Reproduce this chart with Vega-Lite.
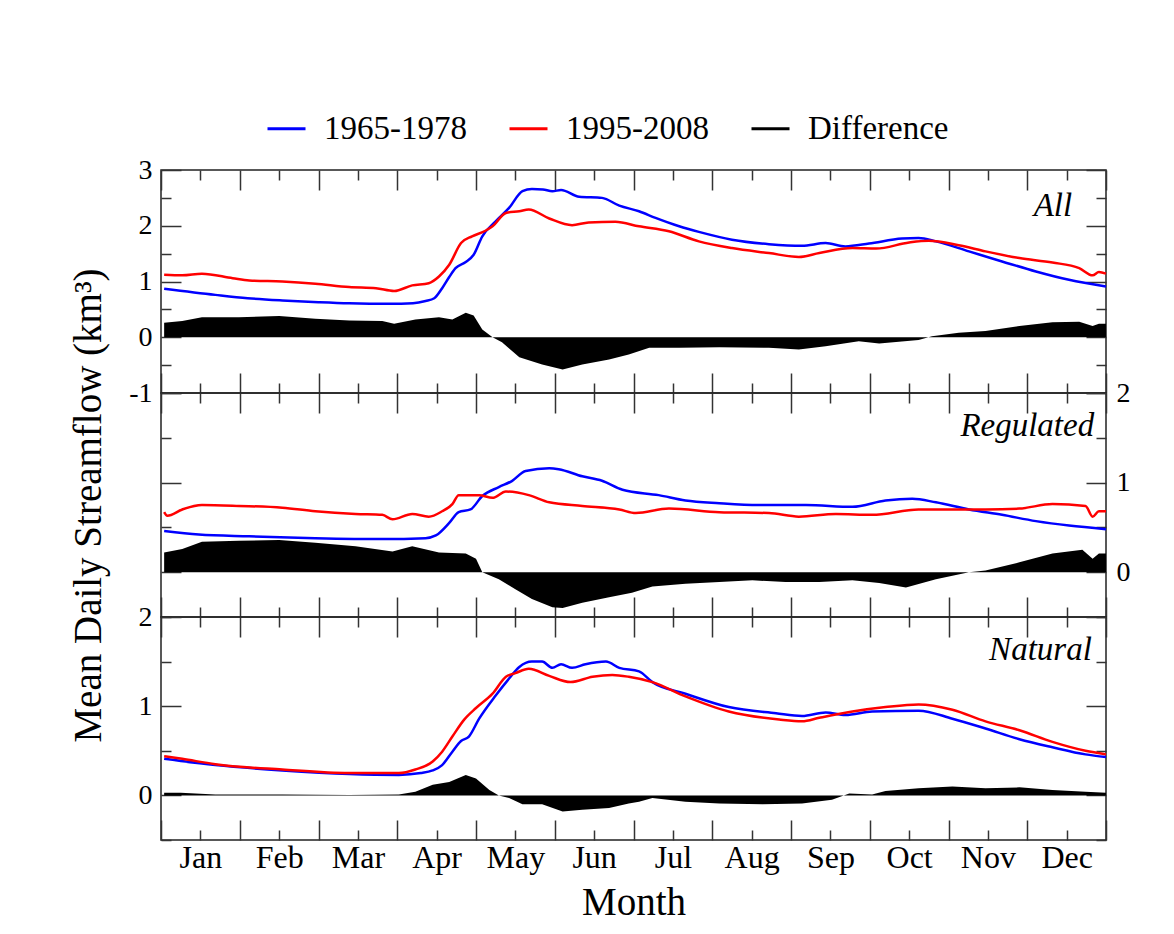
{
  "$schema": "https://vega.github.io/schema/vega-lite/v6.json",
  "background": "white",
  "padding": {"left": 68, "top": 108, "right": 5, "bottom": 5},
  "datasets": {
    "all": [
      {"s":"1965-1978","x":0.04,"v":0.87},{"s":"1965-1978","x":0.69,"v":0.76},{"s":"1965-1978","x":1.1,"v":0.70},{"s":"1965-1978","x":1.54,"v":0.66},{"s":"1965-1978","x":2.0,"v":0.63},{"s":"1965-1978","x":2.39,"v":0.61},{"s":"1965-1978","x":2.9,"v":0.60},{"s":"1965-1978","x":3.2,"v":0.61},{"s":"1965-1978","x":3.36,"v":0.65},{"s":"1965-1978","x":3.47,"v":0.70},{"s":"1965-1978","x":3.57,"v":0.88},{"s":"1965-1978","x":3.66,"v":1.08},{"s":"1965-1978","x":3.74,"v":1.24},{"s":"1965-1978","x":3.87,"v":1.35},{"s":"1965-1978","x":3.97,"v":1.48},{"s":"1965-1978","x":4.08,"v":1.81},{"s":"1965-1978","x":4.25,"v":2.08},{"s":"1965-1978","x":4.42,"v":2.32},{"s":"1965-1978","x":4.59,"v":2.62},{"s":"1965-1978","x":4.71,"v":2.66},{"s":"1965-1978","x":4.85,"v":2.65},{"s":"1965-1978","x":4.97,"v":2.62},{"s":"1965-1978","x":5.08,"v":2.64},{"s":"1965-1978","x":5.31,"v":2.52},{"s":"1965-1978","x":5.6,"v":2.5},{"s":"1965-1978","x":5.82,"v":2.36},{"s":"1965-1978","x":6.07,"v":2.26},{"s":"1965-1978","x":6.28,"v":2.14},{"s":"1965-1978","x":6.58,"v":1.99},{"s":"1965-1978","x":6.83,"v":1.89},{"s":"1965-1978","x":7.25,"v":1.75},{"s":"1965-1978","x":7.72,"v":1.67},{"s":"1965-1978","x":8.14,"v":1.64},{"s":"1965-1978","x":8.44,"v":1.69},{"s":"1965-1978","x":8.69,"v":1.63},{"s":"1965-1978","x":8.99,"v":1.68},{"s":"1965-1978","x":9.41,"v":1.77},{"s":"1965-1978","x":9.62,"v":1.78},{"s":"1965-1978","x":9.84,"v":1.72},{"s":"1965-1978","x":10.26,"v":1.54},{"s":"1965-1978","x":10.68,"v":1.36},{"s":"1965-1978","x":11.11,"v":1.18},{"s":"1965-1978","x":11.53,"v":1.03},{"s":"1965-1978","x":12,"v":0.91},
      {"s":"1995-2008","x":0.04,"v":1.12},{"s":"1995-2008","x":0.27,"v":1.11},{"s":"1995-2008","x":0.52,"v":1.14},{"s":"1995-2008","x":0.91,"v":1.06},{"s":"1995-2008","x":1.12,"v":1.02},{"s":"1995-2008","x":1.54,"v":1.00},{"s":"1995-2008","x":1.96,"v":0.96},{"s":"1995-2008","x":2.39,"v":0.90},{"s":"1995-2008","x":2.73,"v":0.88},{"s":"1995-2008","x":2.96,"v":0.83},{"s":"1995-2008","x":3.19,"v":0.93},{"s":"1995-2008","x":3.40,"v":0.97},{"s":"1995-2008","x":3.53,"v":1.09},{"s":"1995-2008","x":3.66,"v":1.30},{"s":"1995-2008","x":3.81,"v":1.69},{"s":"1995-2008","x":3.95,"v":1.81},{"s":"1995-2008","x":4.12,"v":1.91},{"s":"1995-2008","x":4.21,"v":1.99},{"s":"1995-2008","x":4.38,"v":2.23},{"s":"1995-2008","x":4.55,"v":2.26},{"s":"1995-2008","x":4.67,"v":2.29},{"s":"1995-2008","x":4.93,"v":2.13},{"s":"1995-2008","x":5.22,"v":2.01},{"s":"1995-2008","x":5.43,"v":2.06},{"s":"1995-2008","x":5.77,"v":2.07},{"s":"1995-2008","x":6.07,"v":1.99},{"s":"1995-2008","x":6.45,"v":1.90},{"s":"1995-2008","x":6.83,"v":1.72},{"s":"1995-2008","x":7.25,"v":1.60},{"s":"1995-2008","x":7.72,"v":1.51},{"s":"1995-2008","x":8.10,"v":1.44},{"s":"1995-2008","x":8.36,"v":1.51},{"s":"1995-2008","x":8.78,"v":1.60},{"s":"1995-2008","x":9.08,"v":1.59},{"s":"1995-2008","x":9.50,"v":1.70},{"s":"1995-2008","x":9.75,"v":1.73},{"s":"1995-2008","x":10.13,"v":1.65},{"s":"1995-2008","x":10.47,"v":1.54},{"s":"1995-2008","x":10.90,"v":1.42},{"s":"1995-2008","x":11.32,"v":1.34},{"s":"1995-2008","x":11.66,"v":1.24},{"s":"1995-2008","x":11.83,"v":1.11},{"s":"1995-2008","x":11.91,"v":1.17},{"s":"1995-2008","x":12,"v":1.14},
      {"s":"Difference","x":0.04,"v":0.26},{"s":"Difference","x":0.27,"v":0.29},{"s":"Difference","x":0.52,"v":0.36},{"s":"Difference","x":0.99,"v":0.36},{"s":"Difference","x":1.50,"v":0.38},{"s":"Difference","x":1.96,"v":0.33},{"s":"Difference","x":2.39,"v":0.30},{"s":"Difference","x":2.81,"v":0.29},{"s":"Difference","x":2.96,"v":0.24},{"s":"Difference","x":3.23,"v":0.32},{"s":"Difference","x":3.53,"v":0.36},{"s":"Difference","x":3.70,"v":0.32},{"s":"Difference","x":3.87,"v":0.44},{"s":"Difference","x":3.97,"v":0.39},{"s":"Difference","x":4.08,"v":0.14},{"s":"Difference","x":4.21,"v":0.0},{"s":"Difference","x":4.33,"v":-0.09},{"s":"Difference","x":4.55,"v":-0.36},{"s":"Difference","x":4.84,"v":-0.49},{"s":"Difference","x":5.10,"v":-0.58},{"s":"Difference","x":5.35,"v":-0.49},{"s":"Difference","x":5.69,"v":-0.40},{"s":"Difference","x":5.94,"v":-0.31},{"s":"Difference","x":6.20,"v":-0.19},{"s":"Difference","x":6.58,"v":-0.19},{"s":"Difference","x":7.09,"v":-0.18},{"s":"Difference","x":7.72,"v":-0.19},{"s":"Difference","x":8.10,"v":-0.22},{"s":"Difference","x":8.44,"v":-0.16},{"s":"Difference","x":8.86,"v":-0.07},{"s":"Difference","x":9.12,"v":-0.11},{"s":"Difference","x":9.62,"v":-0.05},{"s":"Difference","x":9.79,"v":0.02},{"s":"Difference","x":10.13,"v":0.08},{"s":"Difference","x":10.47,"v":0.11},{"s":"Difference","x":10.90,"v":0.20},{"s":"Difference","x":11.32,"v":0.27},{"s":"Difference","x":11.66,"v":0.28},{"s":"Difference","x":11.83,"v":0.20},{"s":"Difference","x":11.91,"v":0.24},{"s":"Difference","x":12,"v":0.24}
    ],
    "reg": [
      {"s":"1965-1978","x":0.04,"v":0.46},{"s":"1965-1978","x":0.48,"v":0.42},{"s":"1965-1978","x":1.12,"v":0.40},{"s":"1965-1978","x":1.96,"v":0.38},{"s":"1965-1978","x":2.81,"v":0.37},{"s":"1965-1978","x":3.36,"v":0.38},{"s":"1965-1978","x":3.49,"v":0.41},{"s":"1965-1978","x":3.66,"v":0.55},{"s":"1965-1978","x":3.78,"v":0.67},{"s":"1965-1978","x":3.93,"v":0.70},{"s":"1965-1978","x":4.08,"v":0.85},{"s":"1965-1978","x":4.29,"v":0.95},{"s":"1965-1978","x":4.46,"v":1.02},{"s":"1965-1978","x":4.63,"v":1.13},{"s":"1965-1978","x":4.93,"v":1.16},{"s":"1965-1978","x":5.05,"v":1.15},{"s":"1965-1978","x":5.35,"v":1.07},{"s":"1965-1978","x":5.60,"v":1.02},{"s":"1965-1978","x":5.86,"v":0.92},{"s":"1965-1978","x":6.32,"v":0.86},{"s":"1965-1978","x":6.66,"v":0.80},{"s":"1965-1978","x":7.09,"v":0.77},{"s":"1965-1978","x":7.59,"v":0.75},{"s":"1965-1978","x":8.19,"v":0.75},{"s":"1965-1978","x":8.78,"v":0.73},{"s":"1965-1978","x":9.20,"v":0.80},{"s":"1965-1978","x":9.54,"v":0.82},{"s":"1965-1978","x":9.84,"v":0.78},{"s":"1965-1978","x":10.26,"v":0.70},{"s":"1965-1978","x":10.68,"v":0.64},{"s":"1965-1978","x":11.11,"v":0.57},{"s":"1965-1978","x":11.53,"v":0.52},{"s":"1965-1978","x":12,"v":0.48},
      {"s":"1995-2008","x":0.04,"v":0.67},{"s":"1995-2008","x":0.08,"v":0.63},{"s":"1995-2008","x":0.27,"v":0.70},{"s":"1995-2008","x":0.52,"v":0.75},{"s":"1995-2008","x":0.99,"v":0.74},{"s":"1995-2008","x":1.54,"v":0.72},{"s":"1995-2008","x":1.96,"v":0.68},{"s":"1995-2008","x":2.47,"v":0.65},{"s":"1995-2008","x":2.81,"v":0.64},{"s":"1995-2008","x":2.94,"v":0.59},{"s":"1995-2008","x":3.19,"v":0.65},{"s":"1995-2008","x":3.40,"v":0.62},{"s":"1995-2008","x":3.57,"v":0.68},{"s":"1995-2008","x":3.70,"v":0.76},{"s":"1995-2008","x":3.78,"v":0.86},{"s":"1995-2008","x":4.04,"v":0.86},{"s":"1995-2008","x":4.21,"v":0.83},{"s":"1995-2008","x":4.38,"v":0.90},{"s":"1995-2008","x":4.67,"v":0.86},{"s":"1995-2008","x":4.93,"v":0.78},{"s":"1995-2008","x":5.35,"v":0.74},{"s":"1995-2008","x":5.82,"v":0.70},{"s":"1995-2008","x":6.03,"v":0.66},{"s":"1995-2008","x":6.45,"v":0.71},{"s":"1995-2008","x":7.09,"v":0.67},{"s":"1995-2008","x":7.72,"v":0.66},{"s":"1995-2008","x":8.10,"v":0.62},{"s":"1995-2008","x":8.57,"v":0.65},{"s":"1995-2008","x":9.03,"v":0.64},{"s":"1995-2008","x":9.62,"v":0.70},{"s":"1995-2008","x":10.05,"v":0.70},{"s":"1995-2008","x":10.47,"v":0.70},{"s":"1995-2008","x":10.90,"v":0.71},{"s":"1995-2008","x":11.32,"v":0.76},{"s":"1995-2008","x":11.74,"v":0.74},{"s":"1995-2008","x":11.83,"v":0.62},{"s":"1995-2008","x":11.91,"v":0.68},{"s":"1995-2008","x":12,"v":0.68},
      {"s":"Difference","x":0.04,"v":0.22},{"s":"Difference","x":0.27,"v":0.26},{"s":"Difference","x":0.52,"v":0.34},{"s":"Difference","x":0.99,"v":0.35},{"s":"Difference","x":1.50,"v":0.36},{"s":"Difference","x":1.96,"v":0.33},{"s":"Difference","x":2.47,"v":0.29},{"s":"Difference","x":2.94,"v":0.23},{"s":"Difference","x":3.19,"v":0.29},{"s":"Difference","x":3.53,"v":0.22},{"s":"Difference","x":3.87,"v":0.21},{"s":"Difference","x":4.00,"v":0.15},{"s":"Difference","x":4.08,"v":0.0},{"s":"Difference","x":4.29,"v":-0.08},{"s":"Difference","x":4.50,"v":-0.19},{"s":"Difference","x":4.71,"v":-0.30},{"s":"Difference","x":4.97,"v":-0.39},{"s":"Difference","x":5.10,"v":-0.40},{"s":"Difference","x":5.35,"v":-0.34},{"s":"Difference","x":5.69,"v":-0.28},{"s":"Difference","x":5.98,"v":-0.23},{"s":"Difference","x":6.24,"v":-0.16},{"s":"Difference","x":6.66,"v":-0.13},{"s":"Difference","x":7.09,"v":-0.11},{"s":"Difference","x":7.51,"v":-0.09},{"s":"Difference","x":7.93,"v":-0.11},{"s":"Difference","x":8.36,"v":-0.11},{"s":"Difference","x":8.78,"v":-0.09},{"s":"Difference","x":9.12,"v":-0.12},{"s":"Difference","x":9.46,"v":-0.17},{"s":"Difference","x":9.84,"v":-0.08},{"s":"Difference","x":10.26,"v":0.0},{"s":"Difference","x":10.47,"v":0.02},{"s":"Difference","x":10.90,"v":0.11},{"s":"Difference","x":11.32,"v":0.21},{"s":"Difference","x":11.70,"v":0.25},{"s":"Difference","x":11.83,"v":0.15},{"s":"Difference","x":11.91,"v":0.21},{"s":"Difference","x":12,"v":0.21}
    ],
    "nat": [
      {"s":"1965-1978","x":0.04,"v":0.41},{"s":"1965-1978","x":0.69,"v":0.34},{"s":"1965-1978","x":1.54,"v":0.28},{"s":"1965-1978","x":2.39,"v":0.24},{"s":"1965-1978","x":3.02,"v":0.23},{"s":"1965-1978","x":3.30,"v":0.25},{"s":"1965-1978","x":3.45,"v":0.28},{"s":"1965-1978","x":3.57,"v":0.34},{"s":"1965-1978","x":3.70,"v":0.49},{"s":"1965-1978","x":3.81,"v":0.61},{"s":"1965-1978","x":3.91,"v":0.66},{"s":"1965-1978","x":4.04,"v":0.86},{"s":"1965-1978","x":4.25,"v":1.12},{"s":"1965-1978","x":4.42,"v":1.31},{"s":"1965-1978","x":4.55,"v":1.44},{"s":"1965-1978","x":4.71,"v":1.50},{"s":"1965-1978","x":4.84,"v":1.50},{"s":"1965-1978","x":4.97,"v":1.43},{"s":"1965-1978","x":5.08,"v":1.47},{"s":"1965-1978","x":5.22,"v":1.43},{"s":"1965-1978","x":5.39,"v":1.47},{"s":"1965-1978","x":5.65,"v":1.50},{"s":"1965-1978","x":5.82,"v":1.43},{"s":"1965-1978","x":6.07,"v":1.39},{"s":"1965-1978","x":6.24,"v":1.27},{"s":"1965-1978","x":6.66,"v":1.14},{"s":"1965-1978","x":7.21,"v":0.99},{"s":"1965-1978","x":7.81,"v":0.92},{"s":"1965-1978","x":8.14,"v":0.89},{"s":"1965-1978","x":8.44,"v":0.93},{"s":"1965-1978","x":8.69,"v":0.90},{"s":"1965-1978","x":9.03,"v":0.94},{"s":"1965-1978","x":9.62,"v":0.95},{"s":"1965-1978","x":10.05,"v":0.86},{"s":"1965-1978","x":10.47,"v":0.75},{"s":"1965-1978","x":10.90,"v":0.63},{"s":"1965-1978","x":11.32,"v":0.54},{"s":"1965-1978","x":11.74,"v":0.46},{"s":"1965-1978","x":12,"v":0.43},
      {"s":"1995-2008","x":0.04,"v":0.44},{"s":"1995-2008","x":0.27,"v":0.41},{"s":"1995-2008","x":0.69,"v":0.35},{"s":"1995-2008","x":1.54,"v":0.29},{"s":"1995-2008","x":2.39,"v":0.25},{"s":"1995-2008","x":3.02,"v":0.25},{"s":"1995-2008","x":3.23,"v":0.29},{"s":"1995-2008","x":3.45,"v":0.38},{"s":"1995-2008","x":3.57,"v":0.49},{"s":"1995-2008","x":3.70,"v":0.66},{"s":"1995-2008","x":3.85,"v":0.85},{"s":"1995-2008","x":4.00,"v":0.98},{"s":"1995-2008","x":4.21,"v":1.14},{"s":"1995-2008","x":4.38,"v":1.33},{"s":"1995-2008","x":4.50,"v":1.37},{"s":"1995-2008","x":4.67,"v":1.42},{"s":"1995-2008","x":4.93,"v":1.34},{"s":"1995-2008","x":5.20,"v":1.27},{"s":"1995-2008","x":5.48,"v":1.33},{"s":"1995-2008","x":5.73,"v":1.35},{"s":"1995-2008","x":5.94,"v":1.33},{"s":"1995-2008","x":6.24,"v":1.27},{"s":"1995-2008","x":6.66,"v":1.11},{"s":"1995-2008","x":7.21,"v":0.94},{"s":"1995-2008","x":7.85,"v":0.85},{"s":"1995-2008","x":8.14,"v":0.83},{"s":"1995-2008","x":8.36,"v":0.87},{"s":"1995-2008","x":8.78,"v":0.94},{"s":"1995-2008","x":9.20,"v":0.99},{"s":"1995-2008","x":9.62,"v":1.02},{"s":"1995-2008","x":10.05,"v":0.96},{"s":"1995-2008","x":10.47,"v":0.83},{"s":"1995-2008","x":10.90,"v":0.73},{"s":"1995-2008","x":11.32,"v":0.60},{"s":"1995-2008","x":11.74,"v":0.50},{"s":"1995-2008","x":12,"v":0.46},
      {"s":"Difference","x":0.04,"v":0.03},{"s":"Difference","x":0.25,"v":0.03},{"s":"Difference","x":0.69,"v":0.01},{"s":"Difference","x":1.54,"v":0.01},{"s":"Difference","x":2.39,"v":0.005},{"s":"Difference","x":3.02,"v":0.01},{"s":"Difference","x":3.23,"v":0.04},{"s":"Difference","x":3.45,"v":0.12},{"s":"Difference","x":3.66,"v":0.15},{"s":"Difference","x":3.87,"v":0.23},{"s":"Difference","x":4.00,"v":0.19},{"s":"Difference","x":4.17,"v":0.06},{"s":"Difference","x":4.29,"v":0.0},{"s":"Difference","x":4.42,"v":-0.03},{"s":"Difference","x":4.59,"v":-0.10},{"s":"Difference","x":4.84,"v":-0.10},{"s":"Difference","x":5.10,"v":-0.18},{"s":"Difference","x":5.35,"v":-0.16},{"s":"Difference","x":5.69,"v":-0.14},{"s":"Difference","x":5.94,"v":-0.09},{"s":"Difference","x":6.07,"v":-0.07},{"s":"Difference","x":6.24,"v":-0.03},{"s":"Difference","x":6.66,"v":-0.07},{"s":"Difference","x":7.09,"v":-0.09},{"s":"Difference","x":7.64,"v":-0.10},{"s":"Difference","x":8.14,"v":-0.09},{"s":"Difference","x":8.52,"v":-0.05},{"s":"Difference","x":8.74,"v":0.02},{"s":"Difference","x":9.03,"v":0.01},{"s":"Difference","x":9.20,"v":0.05},{"s":"Difference","x":9.62,"v":0.08},{"s":"Difference","x":10.05,"v":0.10},{"s":"Difference","x":10.47,"v":0.08},{"s":"Difference","x":10.90,"v":0.09},{"s":"Difference","x":11.32,"v":0.06},{"s":"Difference","x":11.74,"v":0.04},{"s":"Difference","x":12,"v":0.03}
    ]
  },
  "spacing": 0,
  "bounds": "flush",
  "vconcat": [
    {
      "width": 945, "height": 223,
      "data": {"name": "all"},
      "resolve": {"axis": {"x": "independent", "y": "independent"}},
      "layer": [
        {
          "transform": [{"filter": "datum.s === 'Difference'"}],
          "mark": {"type": "area"},
          "encoding": {
            "x": {"field": "x", "type": "quantitative", "scale": {"domain": [0, 12], "nice": false, "zero": false},
                  "axis": {"orient": "bottom", "values": [0,0.5,1,1.5,2,2.5,3,3.5,4,4.5,5,5.5,6,6.5,7,7.5,8,8.5,9,9.5,10,10.5,11,11.5,12], "tickSize": {"condition": {"test": "datum.value % 1 === 0", "value": -20}, "value": -10}, "labels": false, "title": null}},
            "y": {"field": "v", "type": "quantitative", "scale": {"domain": [-1, 3], "nice": false},
                  "axis": {"orient": "left", "values": [-1,-0.5,0,0.5,1,1.5,2,2.5,3], "tickSize": {"condition": {"test": "datum.value % 1 === 0", "value": -20}, "value": -10}, "labelExpr": "datum.value % 1 === 0 ? '' + datum.value : ''", "labelPadding": 29, "title": null}},
            "y2": {"datum": 0},
            "color": {"field": "s", "type": "nominal", "scale": {"domain": ["1965-1978", "1995-2008", "Difference"], "range": ["#0000ff", "#ff0000", "#000000"]}, "legend": {"title": null, "orient": "none", "legendX": 105, "legendY": -62, "direction": "horizontal"}}
          }
        },
        {
          "transform": [{"filter": "datum.s !== 'Difference'"}],
          "mark": {"type": "line", "strokeWidth": 2.5, "interpolate": "monotone"},
          "encoding": {
            "x": {"field": "x", "type": "quantitative", "scale": {"domain": [0, 12], "nice": false, "zero": false},
                  "axis": {"orient": "top", "values": [0,0.5,1,1.5,2,2.5,3,3.5,4,4.5,5,5.5,6,6.5,7,7.5,8,8.5,9,9.5,10,10.5,11,11.5,12], "tickSize": {"condition": {"test": "datum.value % 1 === 0", "value": -20}, "value": -10}, "labels": false, "title": null}},
            "y": {"field": "v", "type": "quantitative", "scale": {"domain": [-1, 3], "nice": false},
                  "axis": {"orient": "right", "values": [-1,-0.5,0,0.5,1,1.5,2,2.5,3], "tickSize": {"condition": {"test": "datum.value % 1 === 0", "value": -20}, "value": -10}, "labels": false, "title": null}},
            "color": {"field": "s", "type": "nominal", "scale": {"domain": ["1965-1978", "1995-2008", "Difference"], "range": ["#0000ff", "#ff0000", "#000000"]}, "legend": {"title": null, "orient": "none", "legendX": 105, "legendY": -62, "direction": "horizontal"}}
          }
        },
        {
          "data": {"values": [{}]},
          "mark": {"type": "text", "font": "Liberation Serif", "fontStyle": "italic", "fontSize": 33, "align": "right", "baseline": "middle", "color": "#000"},
          "encoding": {
            "x": {"datum": 11.57, "type": "quantitative", "axis": null},
            "y": {"datum": 2.36, "type": "quantitative", "axis": null},
            "text": {"value": "All"}
          }
        }
      ]
    },
    {
      "width": 945, "height": 224,
      "data": {"name": "reg"},
      "resolve": {"axis": {"x": "independent", "y": "independent"}},
      "layer": [
        {
          "transform": [{"filter": "datum.s === 'Difference'"}],
          "mark": {"type": "area"},
          "encoding": {
            "x": {"field": "x", "type": "quantitative", "scale": {"domain": [0, 12], "nice": false, "zero": false},
                  "axis": {"orient": "bottom", "values": [0,0.5,1,1.5,2,2.5,3,3.5,4,4.5,5,5.5,6,6.5,7,7.5,8,8.5,9,9.5,10,10.5,11,11.5,12], "tickSize": {"condition": {"test": "datum.value % 1 === 0", "value": -20}, "value": -10}, "labels": false, "title": null}},
            "y": {"field": "v", "type": "quantitative", "scale": {"domain": [-0.5, 2], "nice": false},
                  "axis": {"orient": "left", "values": [-0.5,0,0.5,1,1.5,2], "tickSize": {"condition": {"test": "datum.value % 1 === 0", "value": -20}, "value": -10}, "labels": false, "title": "Mean Daily Streamflow (km³)", "titleFontSize": 39, "titlePadding": 52}},
            "y2": {"datum": 0},
            "color": {"field": "s", "type": "nominal", "scale": {"domain": ["1965-1978", "1995-2008", "Difference"], "range": ["#0000ff", "#ff0000", "#000000"]}, "legend": {"title": null, "orient": "none", "legendX": 105, "legendY": -62, "direction": "horizontal"}}
          }
        },
        {
          "transform": [{"filter": "datum.s !== 'Difference'"}],
          "mark": {"type": "line", "strokeWidth": 2.5, "interpolate": "monotone"},
          "encoding": {
            "x": {"field": "x", "type": "quantitative", "scale": {"domain": [0, 12], "nice": false, "zero": false},
                  "axis": {"orient": "top", "values": [0,0.5,1,1.5,2,2.5,3,3.5,4,4.5,5,5.5,6,6.5,7,7.5,8,8.5,9,9.5,10,10.5,11,11.5,12], "tickSize": {"condition": {"test": "datum.value % 1 === 0", "value": -20}, "value": -10}, "labels": false, "title": null}},
            "y": {"field": "v", "type": "quantitative", "scale": {"domain": [-0.5, 2], "nice": false},
                  "axis": {"orient": "right", "values": [-0.5,0,0.5,1,1.5,2], "tickSize": {"condition": {"test": "datum.value % 1 === 0", "value": -20}, "value": -10}, "labelExpr": "datum.value % 1 === 0 ? '' + datum.value : ''", "labelPadding": 30, "title": null}},
            "color": {"field": "s", "type": "nominal", "scale": {"domain": ["1965-1978", "1995-2008", "Difference"], "range": ["#0000ff", "#ff0000", "#000000"]}, "legend": {"title": null, "orient": "none", "legendX": 105, "legendY": -62, "direction": "horizontal"}}
          }
        },
        {
          "data": {"values": [{}]},
          "mark": {"type": "text", "font": "Liberation Serif", "fontStyle": "italic", "fontSize": 33, "align": "right", "baseline": "middle", "color": "#000"},
          "encoding": {
            "x": {"datum": 11.85, "type": "quantitative", "axis": null},
            "y": {"datum": 1.63, "type": "quantitative", "axis": null},
            "text": {"value": "Regulated"}
          }
        }
      ]
    },
    {
      "width": 945, "height": 223,
      "data": {"name": "nat"},
      "resolve": {"axis": {"x": "independent", "y": "independent"}},
      "layer": [
        {
          "transform": [{"filter": "datum.s === 'Difference'"}],
          "mark": {"type": "area"},
          "encoding": {
            "x": {"field": "x", "type": "quantitative", "scale": {"domain": [0, 12], "nice": false, "zero": false},
                  "axis": {"orient": "bottom", "values": [0,0.5,1,1.5,2,2.5,3,3.5,4,4.5,5,5.5,6,6.5,7,7.5,8,8.5,9,9.5,10,10.5,11,11.5,12], "tickSize": {"condition": {"test": "datum.value % 1 === 0", "value": -20}, "value": -10}, "labelExpr": "datum.value % 1 !== 0 ? ['Jan','Feb','Mar','Apr','May','Jun','Jul','Aug','Sep','Oct','Nov','Dec'][floor(datum.value)] : ''", "labelFontSize": 32, "labelPadding": 12, "title": "Month", "titleFontSize": 39, "titlePadding": 10}},
            "y": {"field": "v", "type": "quantitative", "scale": {"domain": [-0.5, 2], "nice": false},
                  "axis": {"orient": "left", "values": [-0.5,0,0.5,1,1.5,2], "tickSize": {"condition": {"test": "datum.value % 1 === 0", "value": -20}, "value": -10}, "labelExpr": "datum.value % 1 === 0 ? '' + datum.value : ''", "labelPadding": 29, "title": null}},
            "y2": {"datum": 0},
            "color": {"field": "s", "type": "nominal", "scale": {"domain": ["1965-1978", "1995-2008", "Difference"], "range": ["#0000ff", "#ff0000", "#000000"]}, "legend": {"title": null, "orient": "none", "legendX": 105, "legendY": -62, "direction": "horizontal"}}
          }
        },
        {
          "transform": [{"filter": "datum.s !== 'Difference'"}],
          "mark": {"type": "line", "strokeWidth": 2.5, "interpolate": "monotone"},
          "encoding": {
            "x": {"field": "x", "type": "quantitative", "scale": {"domain": [0, 12], "nice": false, "zero": false},
                  "axis": {"orient": "top", "values": [0,0.5,1,1.5,2,2.5,3,3.5,4,4.5,5,5.5,6,6.5,7,7.5,8,8.5,9,9.5,10,10.5,11,11.5,12], "tickSize": {"condition": {"test": "datum.value % 1 === 0", "value": -20}, "value": -10}, "labels": false, "title": null}},
            "y": {"field": "v", "type": "quantitative", "scale": {"domain": [-0.5, 2], "nice": false},
                  "axis": {"orient": "right", "values": [-0.5,0,0.5,1,1.5,2], "tickSize": {"condition": {"test": "datum.value % 1 === 0", "value": -20}, "value": -10}, "labels": false, "title": null}},
            "color": {"field": "s", "type": "nominal", "scale": {"domain": ["1965-1978", "1995-2008", "Difference"], "range": ["#0000ff", "#ff0000", "#000000"]}, "legend": {"title": null, "orient": "none", "legendX": 105, "legendY": -62, "direction": "horizontal"}}
          }
        },
        {
          "data": {"values": [{}]},
          "mark": {"type": "text", "font": "Liberation Serif", "fontStyle": "italic", "fontSize": 33, "align": "right", "baseline": "middle", "color": "#000"},
          "encoding": {
            "x": {"datum": 11.82, "type": "quantitative", "axis": null},
            "y": {"datum": 1.63, "type": "quantitative", "axis": null},
            "text": {"value": "Natural"}
          }
        }
      ]
    }
  ],
  "config": {
    "font": "Liberation Serif",
    "view": {"stroke": "#222", "strokeWidth": 1.5},
    "axis": {"domain": false, "grid": false, "tickColor": "#333", "tickWidth": 1.5, "labelFont": "Liberation Serif", "labelFontSize": 28, "labelColor": "#000", "labelOverlap": false, "labelFlush": false, "titleFont": "Liberation Serif", "titleFontWeight": "normal", "titleColor": "#000"},
    "legend": {"symbolType": "stroke", "symbolStrokeWidth": 3, "symbolSize": 1444, "labelFont": "Liberation Serif", "labelFontSize": 33, "labelColor": "#000", "labelOffset": 17, "columnPadding": 36, "labelLimit": 400}
  }
}
